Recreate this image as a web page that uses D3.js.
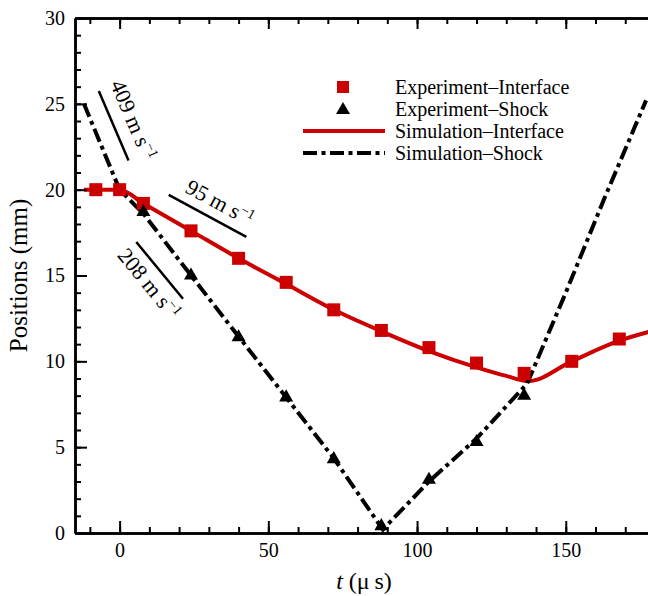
<!DOCTYPE html>
<html>
<head>
<meta charset="utf-8">
<script src="https://cdn.jsdelivr.net/npm/d3@7"></script>
<style>
  body { margin: 0; background: #fff; }
  svg { display: block; }
  svg text { font-family: "Liberation Serif", "Times New Roman", serif; fill: #000; }
</style>
</head>
<body>
<svg></svg>
<script>
// data (t in µs, positions in mm)
const expInterfaceT = [-8, 0, 8, 24, 40, 56, 72, 88, 104, 120, 136, 152, 168];
const expInterfaceY = [20.0, 20.0, 19.2, 17.6, 16.0, 14.6, 13.0, 11.8, 10.8, 9.9, 9.3, 10.0, 11.3];

const expShockT = [8, 24, 40, 56, 72, 88, 104, 120, 136];
const expShockY = [18.7, 15.0, 11.4, 7.9, 4.3, 0.4, 3.1, 5.3, 8.0];

const simInterfaceT = [-12, 0, 8, 24, 40, 56, 72, 88, 104, 120, 130, 137.5, 152, 168, 182];
const simInterfaceY = [20.0, 20.0, 19.2, 17.6, 16.0, 14.5, 13.0, 11.75, 10.6, 9.65, 9.15, 8.85, 10.0, 11.2, 11.9];

const simShockT = [-12, 0, 8, 24, 40, 56, 72, 88.5, 104, 120, 137, 150, 163, 177];
const simShockY = [25.0, 20.0, 18.6, 15.0, 11.45, 7.9, 4.35, 0.2, 3.0, 5.5, 8.7, 14.0, 19.5, 25.2];

// slope annotations, ends in data units
const slopeNotes = [
  { t: [-7.0, 3.0], y: [25.75, 21.7], label: "409", dx: -2, dy: -13 },
  { t: [16.5, 42.6], y: [19.7, 17.25], label: "95", dx: 12, dy: -10 },
  { t: [5.6, 21.3], y: [16.95, 13.65], label: "208", dx: -2, dy: 24 }
];

const legendItems = ["Experiment\u2013Interface", "Experiment\u2013Shock", "Simulation\u2013Interface", "Simulation\u2013Shock"];

const xTicks = [0, 50, 100, 150];
const yTicks = [0, 5, 10, 15, 20, 25, 30];

const W = 648, H = 596;
const margin = { top: 18, left: 75 };
const width = 580, height = 515;
const red = "#cc0000";
const dashDot = "14,4.5,4,4.5";

const svg = d3.select("svg").attr("width", W).attr("height", H);

const x = d3.scaleLinear().domain([-15, 180]).range([0, width]);
const y = d3.scaleLinear().domain([0, 30]).range([height, 0]);

const g = svg.append("g").attr("transform", "translate(" + margin.left + "," + margin.top + ")");

g.append("clipPath").attr("id", "clip")
  .append("rect").attr("width", width).attr("height", height);

const plot = g.append("g").attr("clip-path", "url(#clip)");

// lines
plot.append("path")
  .datum(simInterfaceT.map((t, i) => [t, simInterfaceY[i]]))
  .attr("fill", "none")
  .attr("stroke", red)
  .attr("stroke-width", 4)
  .attr("d", d3.line().x(d => x(d[0])).y(d => y(d[1])).curve(d3.curveMonotoneX));

plot.append("path")
  .datum(simShockT.map((t, i) => [t, simShockY[i]]))
  .attr("fill", "none")
  .attr("stroke", "#000")
  .attr("stroke-width", 4)
  .attr("stroke-dasharray", dashDot)
  .attr("d", d3.line().x(d => x(d[0])).y(d => y(d[1])));

// markers
plot.selectAll(".sq")
  .data(expInterfaceT.map((t, i) => [t, expInterfaceY[i]]))
  .join("rect")
  .attr("x", d => x(d[0]) - 6.5)
  .attr("y", d => y(d[1]) - 6.5)
  .attr("width", 13).attr("height", 13)
  .attr("fill", red);

const tri = d3.symbol().type(d3.symbolTriangle).size(85);
plot.selectAll(".tri")
  .data(expShockT.map((t, i) => [t, expShockY[i]]))
  .join("path")
  .attr("transform", d => "translate(" + x(d[0]) + "," + y(d[1]) + ")")
  .attr("d", tri)
  .attr("fill", "#000");

// slope annotations
slopeNotes.forEach(n => {
  const x1 = x(n.t[0]), y1 = y(n.y[0]), x2 = x(n.t[1]), y2 = y(n.y[1]);
  g.append("line")
    .attr("x1", x1).attr("y1", y1).attr("x2", x2).attr("y2", y2)
    .attr("stroke", "#000").attr("stroke-width", 2.5);
  const ang = Math.atan2(y2 - y1, x2 - x1) * 180 / Math.PI;
  const t = g.append("text")
    .attr("transform", "translate(" + x1 + "," + y1 + ") rotate(" + ang + ")")
    .attr("x", n.dx)
    .attr("y", n.dy)
    .style("font-size", "22px");
  t.append("tspan").text(n.label + " m s");
  t.append("tspan").attr("dy", -8).style("font-size", "14px").text("\u22121");
});

// axes
const axisG = svg.append("g").attr("transform", "translate(" + margin.left + "," + margin.top + ")");

function styleAxis(sel) {
  sel.select(".domain").attr("stroke-width", 2.5);
  sel.selectAll(".tick line").attr("stroke-width", 2);
  sel.selectAll("text")
    .style("font-family", "'Liberation Serif', serif")
    .style("font-size", "20px")
    .attr("fill", "#000");
}

const minorX = d3.range(-10, 181, 10);
const minorY = d3.range(0, 31, 1);

// bottom
axisG.append("g").attr("transform", "translate(0," + height + ")")
  .call(d3.axisBottom(x).tickValues(minorX).tickSize(-6).tickFormat("").tickSizeOuter(0))
  .call(styleAxis);
axisG.append("g").attr("transform", "translate(0," + height + ")")
  .call(d3.axisBottom(x).tickValues(xTicks).tickSize(-12).tickPadding(10).tickSizeOuter(0))
  .call(styleAxis);
// top
axisG.append("g")
  .call(d3.axisTop(x).tickValues(minorX).tickSize(-6).tickFormat("").tickSizeOuter(0))
  .call(styleAxis);
axisG.append("g")
  .call(d3.axisTop(x).tickValues(xTicks).tickSize(-11).tickFormat("").tickSizeOuter(0))
  .call(styleAxis);
// left
axisG.append("g")
  .call(d3.axisLeft(y).tickValues(minorY).tickSize(-6).tickFormat("").tickSizeOuter(0))
  .call(styleAxis);
axisG.append("g")
  .call(d3.axisLeft(y).tickValues(yTicks).tickSize(-12).tickPadding(10).tickSizeOuter(0))
  .call(styleAxis);

// axis titles
svg.append("text")
  .attr("transform", "translate(27," + (margin.top + height / 2) + ") rotate(-90)")
  .attr("text-anchor", "middle")
  .style("font-size", "25px")
  .text("Positions (mm)");

const xt = svg.append("text")
  .attr("x", 364).attr("y", 589)
  .attr("text-anchor", "middle")
  .style("font-size", "24px");
xt.append("tspan").style("font-style", "italic").text("t");
xt.append("tspan").text(" (\u03bc\u2009s)");

// legend
const leg = svg.append("g").attr("transform", "translate(303,87)");
const rowH = 22;
legendItems.forEach((name, i) => {
  const row = leg.append("g").attr("transform", "translate(0," + (i * rowH) + ")");
  if (i === 0) {
    row.append("rect").attr("x", 34).attr("y", -6).attr("width", 12).attr("height", 12).attr("fill", red);
  } else if (i === 1) {
    row.append("path").attr("transform", "translate(40,1)").attr("d", tri).attr("fill", "#000");
  } else if (i === 2) {
    row.append("line").attr("x1", 0).attr("x2", 82).attr("stroke", red).attr("stroke-width", 4);
  } else {
    row.append("line").attr("x1", 0).attr("x2", 82).attr("stroke", "#000").attr("stroke-width", 4)
      .attr("stroke-dasharray", dashDot);
  }
  row.append("text").attr("x", 92).attr("y", 7).style("font-size", "20px").text(name);
});
</script>
</body>
</html>
